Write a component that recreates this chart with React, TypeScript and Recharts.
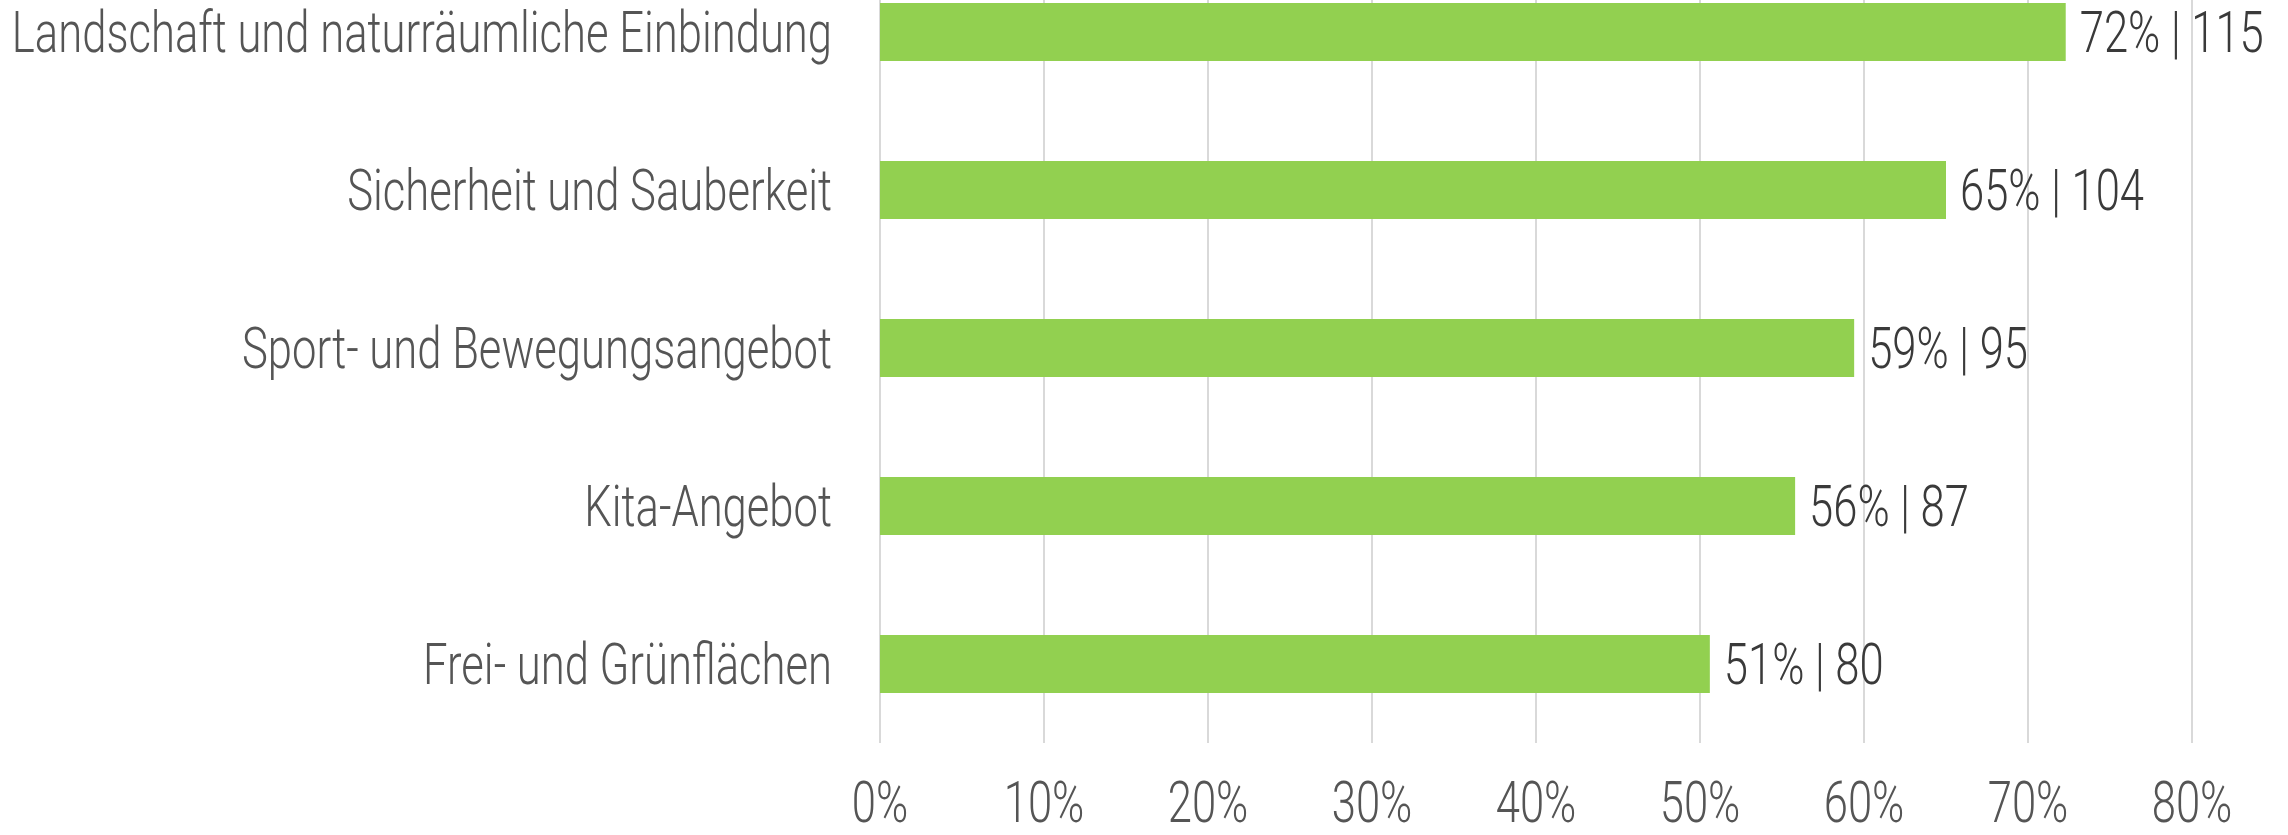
import { BarChart, Bar, XAxis, YAxis, CartesianGrid, LabelList } from 'recharts'

const categories = [
  'Landschaft und naturräumliche Einbindung',
  'Sicherheit und Sauberkeit',
  'Sport- und Bewegungsangebot',
  'Kita-Angebot',
  'Frei- und Grünflächen',
]
const shares = [72.3, 65.0, 59.4, 55.8, 50.6]
const counts = [115, 104, 95, 87, 80]
const xTicks = [0, 10, 20, 30, 40, 50, 60, 70, 80]

const data = categories.map((name, i) => ({ name, share: shares[i], count: counts[i] }))

const FONT = 'Roboto, "Liberation Sans", sans-serif'
const SQUEEZE = 0.765 // narrow the glyphs, the original uses a condensed face

const CategoryTick = (props: any) => {
  const { x, y, payload } = props
  return (
    <text
      transform={`translate(${x - 40},${y + 20}) scale(${SQUEEZE},1)`}
      textAnchor="end"
      fontFamily={FONT}
      fontSize={57}
      fontWeight={300}
      fill="#555555"
    >
      {payload.value}
    </text>
  )
}

const PercentTick = (props: any) => {
  const { x, y, payload } = props
  return (
    <text
      transform={`translate(${x},${y + 71}) scale(${SQUEEZE},1)`}
      textAnchor="middle"
      fontFamily={FONT}
      fontSize={57}
      fontWeight={300}
      fill="#555555"
    >
      {`${payload.value}%`}
    </text>
  )
}

const ValueLabel = (props: any) => {
  const { x, y, width, height, index } = props
  const label = `${Math.round(shares[index])}% | ${counts[index]}`
  return (
    <text
      transform={`translate(${x + width + 14},${y + height / 2 + 20}) scale(${SQUEEZE},1)`}
      textAnchor="start"
      fontFamily={FONT}
      fontSize={57}
      fontWeight={300}
      fill="#3a3a3a"
    >
      {label}
    </text>
  )
}

export default function App() {
  return (
    <div
      style={{
        position: 'fixed',
        left: 0,
        top: 0,
        width: 2288,
        height: 835,
        overflow: 'hidden',
        background: '#ffffff',
      }}
    >
      <div style={{ position: 'absolute', left: 0, top: -47 }}>
        <BarChart
          width={2288}
          height={890}
          data={data}
          layout="vertical"
          margin={{ top: 0, right: 96, bottom: 0, left: 0 }}
        >
          <CartesianGrid horizontal={false} stroke="#d9d9d9" strokeWidth={2} />
          <XAxis
            type="number"
            domain={[0, 80]}
            ticks={xTicks}
            axisLine={false}
            tickLine={false}
            height={100}
            tick={<PercentTick />}
            interval={0}
          />
          <YAxis
            type="category"
            dataKey="name"
            width={880}
            axisLine={false}
            tickLine={false}
            tick={<CategoryTick />}
            interval={0}
          />
          <Bar dataKey="share" fill="#92d050" barSize={58} isAnimationActive={false}>
            <LabelList dataKey="share" content={<ValueLabel />} />
          </Bar>
        </BarChart>
      </div>
    </div>
  )
}
